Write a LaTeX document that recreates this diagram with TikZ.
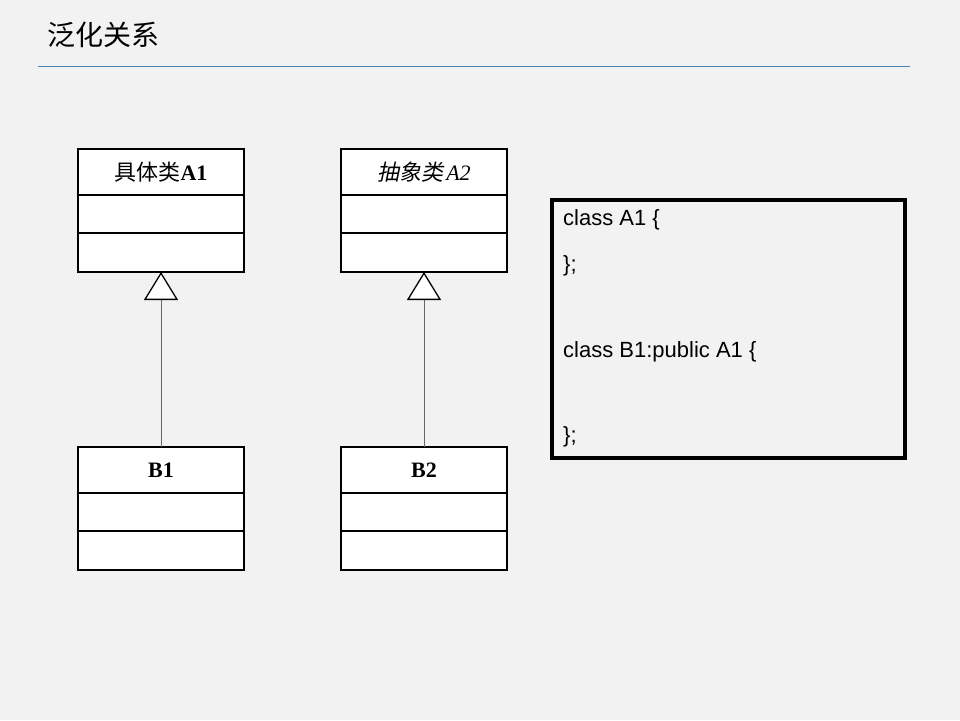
\documentclass[tikz,border=0pt]{standalone}
\usepackage{fontspec}
\setmainfont{Liberation Serif}
\newfontfamily\cjk{Noto Sans CJK SC}
\newfontfamily\cjkit[FakeSlant=0.2]{Noto Sans CJK SC}
\newfontfamily\arial{Liberation Sans}
\usetikzlibrary{arrows.meta}

\definecolor{bgGrey}{RGB}{242,242,242}
\definecolor{ruleBlue}{RGB}{76,130,180}

\tikzset{
	part/.style={draw, line width=1.8pt, fill=white, minimum width=166pt, anchor=north west, inner sep=0pt, outer sep=0pt},
	nameRow/.style={part, minimum height=46pt, font=\fontsize{22}{24}\selectfont},
	attrRow/.style={part, minimum height=38pt},
	opsRow/.style={part, minimum height=39pt},
	inherit/.style={draw=gray!80!black, line width=1pt, -{Triangle[width=34pt, length=28pt, fill=white, color=black, line width=1.3pt]}},
	codeLine/.style={anchor=west, inner sep=0pt, font=\arial\fontsize{22}{24}\selectfont}
}

\begin{document}
\begin{tikzpicture}[x=1pt, y=-1pt]

				\fill[bgGrey] (0,0) rectangle (960,720);
				\useasboundingbox (0,0) rectangle (960,720);

				\node[anchor=west, inner sep=0pt, font=\cjk\fontsize{28}{30}\selectfont] (lblTitle) at (47,35) {泛化关系};
				\draw[ruleBlue, line width=1.2pt] (38,66.5) -- (910,66.5);

				% concrete class A1 and its subclass
				\node[nameRow] (A1name) at (78,149) {{\cjk 具体类}\textbf{A1}};
				\node[attrRow] (A1attr) at (A1name.south west) {};
				\node[opsRow] (A1ops) at (A1attr.south west) {};

				\node[nameRow] (B1name) at (78,447) {\textbf{B1}};
				\node[attrRow] (B1attr) at (B1name.south west) {};
				\node[opsRow] (B1ops) at (B1attr.south west) {};

				% abstract class A2 and its subclass
				\node[nameRow] (A2name) at (341,149) {{\cjkit 抽象类}\kern3pt\textit{A2}};
				\node[attrRow] (A2attr) at (A2name.south west) {};
				\node[opsRow] (A2ops) at (A2attr.south west) {};

				\node[nameRow] (B2name) at (341,447) {\textbf{B2}};
				\node[attrRow] (B2attr) at (B2name.south west) {};
				\node[opsRow] (B2ops) at (B2attr.south west) {};

				\draw[inherit] (B1name.north) -- (A1ops.south);
				\draw[inherit] (B2name.north) -- (A2ops.south);

				% code box
				\node[draw, line width=3.2pt, anchor=north west, minimum width=353pt, minimum height=258pt, inner sep=0pt, outer sep=0pt] (Code) at (552,200) {};
				\node[codeLine] (codeA) at (563,220) {class A1 \{};
				\node[codeLine] (codeAend) at (563,266) {\};};
				\node[codeLine] (codeB) at (563,352) {class B1:public A1 \{};
				\node[codeLine] (codeBend) at (563,437) {\};};

			\end{tikzpicture}
\end{document}
